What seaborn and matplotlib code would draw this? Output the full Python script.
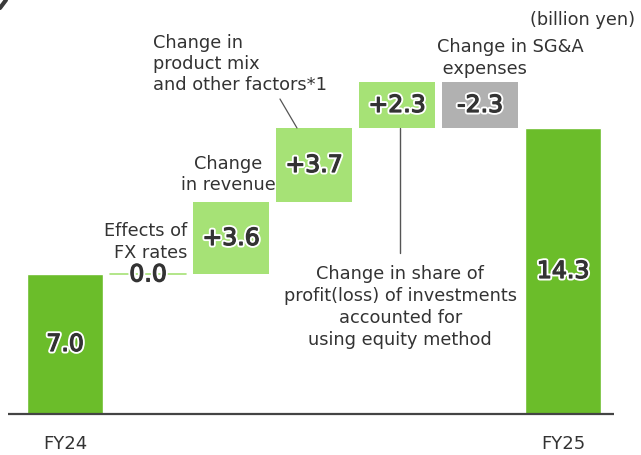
import numpy as np
import pandas as pd
import matplotlib
matplotlib.use("Agg")
import matplotlib.pyplot as plt
import matplotlib.patheffects as pe
import seaborn as sns

# Operating profit bridge FY24 -> FY25 (billion yen)
categories = ["FY24", "FX", "Revenue", "Mix", "Equity", "SG&A", "FY25"]
changes = [7.0, 0.0, 3.6, 3.7, 2.3, -2.3, 14.3]
value_labels = ["7.0", "0.0", "+3.6", "+3.7", "+2.3", "-2.3", "14.3"]
is_total = [True, False, False, False, False, False, True]
tick_labels = ["FY24", "", "", "", "", "", "FY25"]

TOTAL_GREEN = "#6bbd2a"
STEP_GREEN = "#a6e276"
NEG_GRAY = "#b1b1b1"
TEXT = "#333333"

sns.set_theme(style="white")
plt.rcParams["font.family"] = ["DejaVu Sans"]

# running base for floating bars
bases = []
running = 0.0
for val, tot in zip(changes, is_total):
    if tot:
        bases.append(0.0)
        running = val
    else:
        bases.append(running if val >= 0 else running + val)
        running += val

df = pd.DataFrame({"step": categories, "change": changes, "base": bases,
                   "total": is_total, "label": value_labels})

fig = plt.figure(figsize=(6.41, 4.55), dpi=100)
ax = fig.add_axes([0, 0, 1, 1])

# total bars through seaborn
sns.barplot(data=df[df["total"]], x="step", y="change", order=categories,
            color=TOTAL_GREEN, saturation=1, width=0.91, ax=ax)

# floating bars for the changes
steps = df[~df["total"]]
pos = [categories.index(s) for s in steps["step"]]
cols = [NEG_GRAY if c < 0 else STEP_GREEN for c in steps["change"]]
ax.bar(pos, steps["change"].abs(), bottom=steps["base"], width=0.91,
       color=cols, linewidth=0)

# zero-size FX change drawn as a thin line
fx = categories.index("FX")
ax.plot([fx - 0.455, fx + 0.455], [df.loc[fx, "base"]] * 2, color=STEP_GREEN, lw=1.2)

ax.set_xlim(-65 / 83, (641 - 65) / 83)
ax.set_ylim(-41 / 20, 414 / 20)
ax.set_axis_off()

# baseline
ax.plot([-0.687, 6.614], [0, 0], color="#444444", lw=1.6, solid_capstyle="butt")

stroke = [pe.Stroke(linewidth=3.6, foreground="white"),
          pe.Stroke(linewidth=0.9, foreground=TEXT), pe.Normal()]
for i, row in df.iterrows():
    if row["change"] == 0:
        y = row["base"] - 0.02
    else:
        y = row["base"] + abs(row["change"]) / 2
    ax.text(i, y, row["label"], ha="center", va="center", fontsize=17,
            color=TEXT, path_effects=stroke)

for i, lab in enumerate(tick_labels):
    if lab:
        ax.text(i, -1.5, lab, ha="center", va="center", fontsize=13, color=TEXT)

fs = 12.8
ax.text(6.867, 19.7, "(billion yen)", ha="right", va="center", fontsize=fs, color=TEXT)
ax.text(1.06, 17.5, "Change in\nproduct mix\nand other factors*1", ha="left",
        va="center", fontsize=fs, color=TEXT, linespacing=1.25)
ax.plot([2.59, 2.795], [15.75, 14.3], color="#555555", lw=0.9)
ax.text(1.964, 11.98, "Change\nin revenue", ha="center", va="center",
        fontsize=fs, color=TEXT, linespacing=1.25)
ax.text(1.47, 8.6, "Effects of\nFX rates", ha="right", va="center",
        multialignment="right", fontsize=fs, color=TEXT, linespacing=1.25)
ax.text(4.48, 17.8, "Change in SG&A\n expenses", ha="left", va="center",
        fontsize=fs, color=TEXT, linespacing=1.25)
ax.plot([4.04, 4.04], [14.3, 8.05], color="#555555", lw=1.0)
ax.text(4.04, 5.35, "Change in share of\nprofit(loss) of investments\naccounted for\nusing equity method",
        ha="center", va="center", fontsize=fs, color=TEXT, linespacing=1.28)

# corner mark
ax.plot([0, 6 / 641], [1 - 8 / 455, 1], transform=ax.transAxes, color="#3a3a3a",
        lw=3, clip_on=False)

fig.savefig("out.png", dpi=100)
